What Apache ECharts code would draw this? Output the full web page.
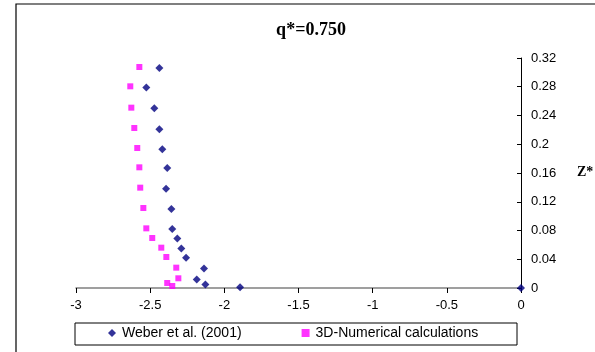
<!DOCTYPE html>
<html>
<head>
<meta charset="utf-8">
<script src="https://cdn.jsdelivr.net/npm/echarts@6/dist/echarts.min.js"></script>
<style>html,body{margin:0;padding:0;background:#fff;}#c{width:595px;height:352px;}</style>
</head>
<body>
<div id="c"></div>
<script>
const titleText = 'q*=0.750';
const yAxisName = 'Z*';
const weberName = 'Weber et al. (2001)';
const numName = '3D-Numerical calculations';
const weberX = [-2.438, -2.526, -2.472, -2.438, -2.418, -2.385, -2.393, -2.357, -2.351, -2.317, -2.290, -2.258, -2.137, -2.186, -2.128, -1.894, 0];
const weberZ = [0.306, 0.279, 0.250, 0.221, 0.193, 0.167, 0.138, 0.110, 0.082, 0.069, 0.055, 0.042, 0.027, 0.012, 0.005, 0.001, 0];
const numX = [-2.573, -2.634, -2.627, -2.607, -2.587, -2.573, -2.567, -2.546, -2.526, -2.486, -2.425, -2.391, -2.324, -2.310, -2.385, -2.351];
const numZ = [0.3075, 0.2806, 0.2509, 0.2226, 0.1948, 0.1679, 0.1396, 0.1113, 0.0830, 0.0696, 0.0561, 0.0431, 0.0283, 0.0135, 0.0070, 0.0028];

const chart = echarts.init(document.getElementById('c'), null, {renderer: 'canvas'});
const axisFont = {fontFamily: 'Liberation Sans, Arial', fontSize: 13, color: '#000'};
chart.setOption({
  animation: false,
  backgroundColor: '#fff',
  title: {
    text: titleText, left: 306, textAlign: 'center', top: 16,
    textStyle: {fontFamily: 'Liberation Serif, Times New Roman', fontWeight: 'bold', fontSize: 18, color: '#000'}
  },
  graphic: [
    {type: 'rect', shape: {x: 16, y: 4, width: 620, height: 400}, style: {fill: 'none', stroke: '#000', lineWidth: 1.2}, silent: true, z: -1},
    {type: 'rect', shape: {x: 75, y: 323, width: 442, height: 22}, style: {fill: '#fff', stroke: '#000', lineWidth: 1}, silent: true, z: 0},
    {type: 'text', left: 577, top: 165, style: {text: yAxisName, font: 'bold 14px "Liberation Serif", "Times New Roman"', fill: '#000'}}
  ],
  legend: {
    left: 108, top: 326, itemWidth: 8, itemHeight: 8, itemGap: 60, padding: 0, z: 5,
    textStyle: {fontFamily: 'Liberation Sans, Arial', fontSize: 14, color: '#000', padding: [0, 0, 0, 1]},
    data: [
      {name: weberName, icon: 'diamond'},
      {name: numName, icon: 'rect'}
    ]
  },
  grid: {left: 76, right: 74, top: 58, bottom: 64, containLabel: false},
  xAxis: {
    type: 'value', min: -3, max: 0, interval: 0.5,
    splitLine: {show: false},
    axisLine: {onZero: false, lineStyle: {color: '#808080', width: 1.5}},
    axisTick: {show: true, length: 5, lineStyle: {color: '#000'}},
    axisLabel: Object.assign({margin: 11}, axisFont)
  },
  yAxis: {
    type: 'value', position: 'right', min: 0, max: 0.32, interval: 0.04,
    splitLine: {show: false},
    axisLine: {show: true, onZero: false, lineStyle: {color: '#000', width: 1}},
    axisTick: {show: true, inside: true, length: 4, lineStyle: {color: '#000'}},
    axisLabel: Object.assign({margin: 10}, axisFont)
  },
  series: [
    {
      name: weberName, type: 'scatter', symbol: 'diamond', symbolSize: 8,
      itemStyle: {color: '#000080'},
      data: weberX.map((x, i) => [x, weberZ[i]]), z: 3
    },
    {
      name: numName, type: 'scatter', symbol: 'rect', symbolSize: 6,
      itemStyle: {color: '#ff00ff'},
      data: numX.map((x, i) => [x, numZ[i]]), z: 2
    }
  ]
});
</script>
</body>
</html>
